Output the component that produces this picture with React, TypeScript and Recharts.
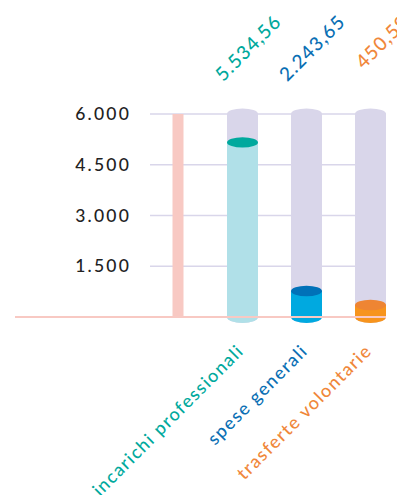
import React from 'react';
import { BarChart, Bar, XAxis, YAxis, CartesianGrid, ReferenceLine, LabelList } from 'recharts';

// ---- data ----
const categories = ['incarichi professionali', 'spese generali', 'trasferte volontarie'];
// amounts printed above the chart
const amounts = [5534.56, 2243.65, 450.59];
// fill levels of the cylinders as drawn against the y axis
const fillLevels = [5160, 770, 355];
const yTicks = [1500, 3000, 4500, 6000];
const yMax = 6000;

// ---- styling ----
const FONT = 'Lato, "Open Sans", sans-serif';
const PINK = '#f8c9c3';
const LAVENDER = '#d9d6ea';
const textColors = ['#00a99d', '#0a6fb4', '#f0873a'];
const bodyColors = ['#b0e0e8', '#00a9e0', '#f7941d'];
const capColors = ['#00a99d', '#0071b8', '#ee8533'];

const AXIS_KEY = '__asse__';

const data = [
  { name: AXIS_KEY, level: null as number | null, amount: null as number | null, idx: -1 },
  ...categories.map((c, i) => ({ name: c, level: fillLevels[i], amount: amounts[i], idx: i })),
];

function fmtIt(v: number, dec: number): string {
  const [intPart, frac] = v.toFixed(dec).split('.');
  const grouped = intPart.replace(/\B(?=(\d{3})+(?!\d))/g, '.');
  return frac ? `${grouped},${frac}` : grouped;
}

const okNum = (n: any) => typeof n === 'number' && isFinite(n);

const Cylinder = (props: any) => {
  const { x, y, width, height, payload } = props;
  if (!payload || payload.idx < 0 || !okNum(x) || !okNum(y) || !okNum(height)) return null;
  const i = payload.idx;
  const rx = width / 2;
  const cx = x + rx;
  const bottom = y + height;
  return (
    <g>
      <ellipse cx={cx} cy={bottom} rx={rx} ry={6} fill={bodyColors[i]} />
      <rect x={x} y={y} width={width} height={height} fill={bodyColors[i]} />
      <ellipse cx={cx} cy={y} rx={rx} ry={5.2} fill={capColors[i]} />
    </g>
  );
};

const Track = (props: any) => {
  const { x, y, width, height, payload } = props;
  if (!payload || payload.idx < 0) return null;
  if (!okNum(x) || !okNum(y) || !okNum(height)) return null;
  const rx = width / 2;
  const cx = x + rx;
  return (
    <g>
      <ellipse cx={cx} cy={y} rx={rx} ry={5.5} fill={LAVENDER} />
      <rect x={x} y={y} width={width} height={height} fill={LAVENDER} />
      <ellipse cx={cx} cy={y + height} rx={rx} ry={6} fill={LAVENDER} />
    </g>
  );
};

const GridLine = (props: any) => {
  const { x1, x2, y1 } = props;
  return <line x1={x1 + 135} x2={x2} y1={y1} y2={y1} stroke={LAVENDER} strokeWidth={1.4} />;
};

const YTick = (props: any) => {
  const { x, y, payload } = props;
  return (
    <text
      x={x + 116}
      y={y + 6}
      textAnchor="end"
      fill="#222222"
      fontSize={17.5}
      fontFamily={FONT}
      fontWeight={500}
      letterSpacing={2.2}
    >
      {fmtIt(payload.value, 0)}
    </text>
  );
};

const CatTick = (props: any) => {
  const { x, y, payload } = props;
  const i = categories.indexOf(payload.value);
  if (i < 0) return null;
  const ax = x + 3;
  const ay = y + 35;
  return (
    <text
      x={ax}
      y={ay}
      transform={`rotate(-45 ${ax} ${ay})`}
      textAnchor="end"
      fill={textColors[i]}
      fontSize={18}
      fontFamily={FONT}
      fontWeight={500}
      letterSpacing={1.5}
    >
      {payload.value}
    </text>
  );
};

const AmountLabel = (props: any) => {
  const { value } = props;
  const i = amounts.indexOf(value);
  if (i < 0 || value == null) return null;
  const vb = props.viewBox || props;
  const { x, y, width, height } = vb;
  if (!okNum(x) || !okNum(y)) return null;
  const ax = x + width / 2 + 40;
  const ay = y + height - 294;
  return (
    <text
      x={ax}
      y={ay}
      transform={`rotate(-45 ${ax} ${ay})`}
      textAnchor="end"
      fill={textColors[i]}
      fontSize={19}
      fontFamily={FONT}
      fontWeight={500}
      letterSpacing={1.1}
    >
      {fmtIt(value, 2)}
    </text>
  );
};

export default function App() {
  return (
    <BarChart
      width={397}
      height={487}
      data={data}
      margin={{ top: 106, right: 19, bottom: 0, left: 5 }}
      barSize={31}
    >
      <CartesianGrid vertical={false} horizontal={GridLine} />
      <XAxis
        dataKey="name"
        interval={0}
        padding={{ left: 131, right: -16 }}
        axisLine={{ stroke: PINK, strokeWidth: 2 }}
        tickLine={false}
        tickSize={0}
        tickMargin={0}
        height={178}
        tick={<CatTick />}
      />
      <YAxis
        domain={[0, yMax]}
        ticks={yTicks}
        width={2}
        axisLine={false}
        tickLine={false}
        tickSize={0}
        tickMargin={0}
        tick={<YTick />}
      />
      <ReferenceLine x={AXIS_KEY} stroke={PINK} strokeWidth={11} />
      <Bar dataKey="level" shape={<Cylinder />} background={<Track />} isAnimationActive={false}>
        <LabelList dataKey="amount" content={<AmountLabel />} />
      </Bar>
    </BarChart>
  );
}
